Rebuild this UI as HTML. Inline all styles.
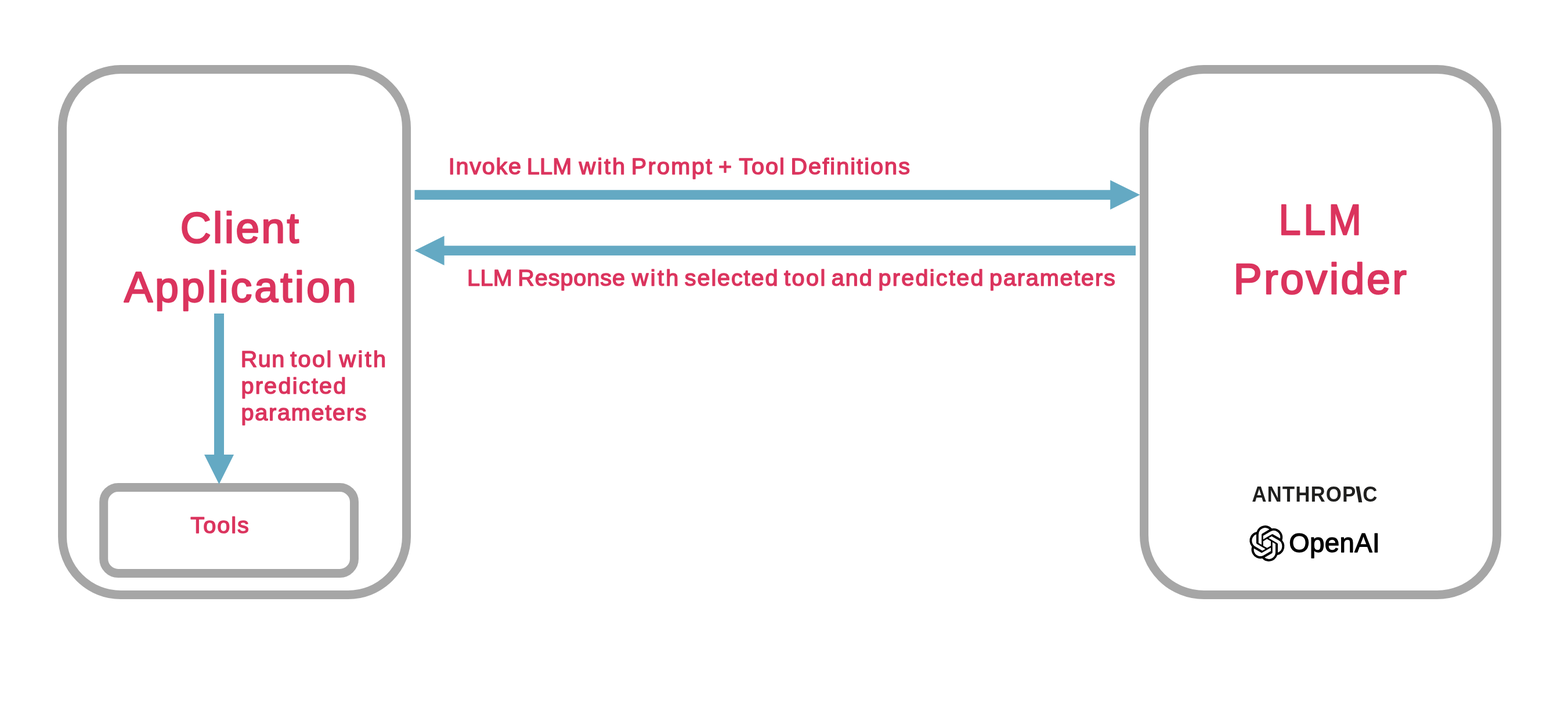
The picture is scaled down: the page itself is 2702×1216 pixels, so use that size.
<!DOCTYPE html>
<html lang="en">
<head>
<meta charset="utf-8">
<title>LLM tool calling flow</title>
<style>
  html, body { margin: 0; padding: 0; background: #ffffff; }
  body { width: 2702px; height: 1216px; overflow: hidden; position: relative; }
  svg { position: absolute; left: 0; top: 0; display: block; will-change: transform; }
  text { font-family: "Liberation Sans", sans-serif; }
  .box { fill: none; stroke: #a6a6a6; stroke-width: 15; }
  .arrow { fill: #64a9c3; }
</style>
</head>
<body>
<svg width="2702" height="1216" viewBox="0 0 2702 1216">

  <!-- Client Application container -->
  <rect class="box" x="107.5" y="119.5" width="593" height="905" rx="100.5" ry="100.5"/>
  <text x="310.78" y="417.9" font-size="73.5" fill="#db345e" stroke="#db345e" stroke-width="2.5" stroke-linejoin="round" letter-spacing="3.24">Client</text>
  <text x="213.94" y="520.2" font-size="73.5" fill="#db345e" stroke="#db345e" stroke-width="2.5" stroke-linejoin="round" letter-spacing="4.04">Application</text>

  <!-- Tools box -->
  <rect class="box" x="178.7" y="839.5" width="431.8" height="148" rx="25" ry="25"/>
  <text x="328.37" y="918.45" font-size="39.6" fill="#db345e" stroke="#db345e" stroke-width="1.5" stroke-linejoin="round" letter-spacing="2.00">Tools</text>

  <!-- Run tool arrow + label -->
  <polygon class="arrow" points="369,540 386,540 386,783 403,783 377.5,834 352,783 369,783"/>
  <text y="631.65" font-size="39.6" fill="#db345e" stroke="#db345e" stroke-width="1.5" stroke-linejoin="round"><tspan x="414.68" letter-spacing="1.43">Run</tspan> <tspan x="500.20" letter-spacing="2.42">tool</tspan> <tspan x="584.43" letter-spacing="3.42">with</tspan></text>
  <text x="415.41" y="677.55" font-size="39.6" fill="#db345e" stroke="#db345e" stroke-width="1.5" stroke-linejoin="round" letter-spacing="2.26">predicted</text>
  <text x="415.41" y="723.55" font-size="39.6" fill="#db345e" stroke="#db345e" stroke-width="1.5" stroke-linejoin="round" letter-spacing="1.78">parameters</text>

  <!-- Request arrow: client to provider -->
  <text y="300.05" font-size="39.6" fill="#db345e" stroke="#db345e" stroke-width="1.5" stroke-linejoin="round"><tspan x="772.67" letter-spacing="1.75">Invoke</tspan> <tspan x="907.78" letter-spacing="0.23">LLM</tspan> <tspan x="997.73" letter-spacing="2.98">with</tspan> <tspan x="1087.68" letter-spacing="2.37">Prompt</tspan> <tspan x="1238.04" letter-spacing="0.00">+</tspan> <tspan x="1273.27" letter-spacing="2.01">Tool</tspan> <tspan x="1362.48" letter-spacing="2.07">Definitions</tspan></text>
  <polygon class="arrow" points="714.5,327.2 1913.2,327.2 1913.2,310.2 1964.4,335.6 1913.2,361 1913.2,344 714.5,344"/>

  <!-- Response arrow: provider to client -->
  <polygon class="arrow" points="1957,423.2 765.6,423.2 765.6,406.2 714.6,431.6 765.6,457 765.6,440 1957,440"/>
  <text y="491.85" font-size="39.6" fill="#db345e" stroke="#db345e" stroke-width="1.5" stroke-linejoin="round"><tspan x="804.98" letter-spacing="0.42">LLM</tspan> <tspan x="892.18" letter-spacing="0.95">Response</tspan> <tspan x="1088.73" letter-spacing="3.42">with</tspan> <tspan x="1179.83" letter-spacing="1.88">selected</tspan> <tspan x="1351.00" letter-spacing="2.48">tool</tspan> <tspan x="1432.82" letter-spacing="1.92">and</tspan> <tspan x="1513.41" letter-spacing="2.29">predicted</tspan> <tspan x="1705.11" letter-spacing="1.83">parameters</tspan></text>

  <!-- LLM Provider container -->
  <rect class="box" x="1971.5" y="119.5" width="608" height="905" rx="103" ry="103"/>
  <text transform="scale(0.93 1)" x="2369.31" y="403.8" font-size="73.5" fill="#db345e" stroke="#db345e" stroke-width="2.5" stroke-linejoin="round" letter-spacing="5.10">LLM</text>
  <text x="2125.42" y="505.5" font-size="73.5" fill="#db345e" stroke="#db345e" stroke-width="2.5" stroke-linejoin="round" letter-spacing="3.53">Provider</text>

  <!-- Provider logos -->
  <text transform="scale(0.93 1)" x="2319.50" y="864.2" font-size="37.5" fill="#1f1f1e" font-weight="bold" letter-spacing="1.22">ANTHROP<tspan font-size="33.5" dy="-1.3" stroke="#1f1f1e" stroke-width="2.6">\</tspan><tspan dx="1.1" dy="1.3">C</tspan></text>
  <g transform="translate(2152.9 905.1) scale(2.536 2.577)" fill="#000000">
    <path d="M22.2819 9.8211a5.9847 5.9847 0 0 0-.5157-4.9108 6.0462 6.0462 0 0 0-6.5098-2.9A6.0651 6.0651 0 0 0 4.9807 4.1818a5.9847 5.9847 0 0 0-3.9977 2.9 6.0462 6.0462 0 0 0 .7427 7.0966 5.98 5.98 0 0 0 .511 4.9107 6.051 6.051 0 0 0 6.5146 2.9001A5.9847 5.9847 0 0 0 13.2599 24a6.0557 6.0557 0 0 0 5.7718-4.2058 5.9894 5.9894 0 0 0 3.9977-2.9001 6.0557 6.0557 0 0 0-.7475-7.0729zm-9.022 12.6081a4.4755 4.4755 0 0 1-2.8764-1.0408l.1419-.0804 4.7783-2.7582a.7948.7948 0 0 0 .3927-.6813v-6.7369l2.02 1.1686a.071.071 0 0 1 .038.052v5.5826a4.504 4.504 0 0 1-4.4945 4.4944zm-9.6607-4.1254a4.4708 4.4708 0 0 1-.5346-3.0137l.142.0852 4.783 2.7582a.7712.7712 0 0 0 .7806 0l5.8428-3.3685v2.3324a.0804.0804 0 0 1-.0332.0615L9.74 19.9502a4.4992 4.4992 0 0 1-6.1408-1.6464zM2.3408 7.8956a4.485 4.485 0 0 1 2.3655-1.9728V11.6a.7664.7664 0 0 0 .3879.6765l5.8144 3.3543-2.0201 1.1685a.0757.0757 0 0 1-.071 0l-4.8303-2.7865A4.504 4.504 0 0 1 2.3408 7.872zm16.5963 3.8558L13.1038 8.364 15.1192 7.2a.0757.0757 0 0 1 .071 0l4.8303 2.7913a4.4944 4.4944 0 0 1-.6765 8.1042v-5.6772a.79.79 0 0 0-.407-.667zm2.0107-3.0231l-.142-.0852-4.7735-2.7818a.7759.7759 0 0 0-.7854 0L9.409 9.2297V6.8974a.0662.0662 0 0 1 .0284-.0615l4.8303-2.7866a4.4992 4.4992 0 0 1 6.6802 4.66zM8.3065 12.863l-2.02-1.1638a.0804.0804 0 0 1-.038-.0567V6.0742a4.4992 4.4992 0 0 1 7.3757-3.4537l-.142.0805L8.704 5.459a.7948.7948 0 0 0-.3927.6813zm1.0976-2.3654l2.602-1.4998 2.6069 1.4998v2.9994l-2.5974 1.4997-2.6067-1.4997Z"/>
  </g>
  <text transform="scale(0.97 1)" x="2289.98" y="951" font-size="47" fill="#000000" stroke="#000000" stroke-width="1.4" stroke-linejoin="round" letter-spacing="0.35">OpenAI</text>
</svg>
</body>
</html>
